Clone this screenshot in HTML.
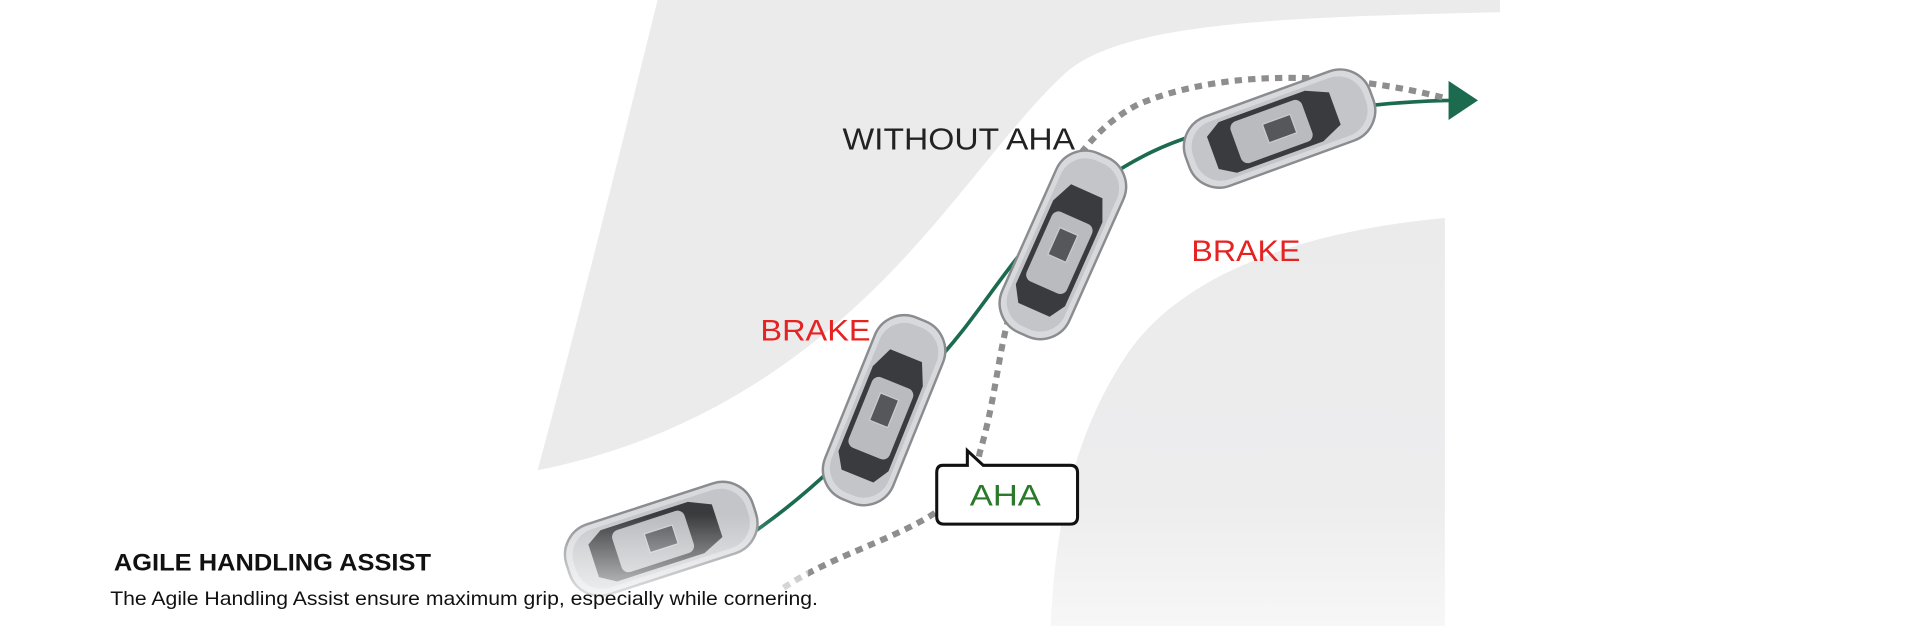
<!DOCTYPE html>
<html><head><meta charset="utf-8"><style>
html,body{margin:0;padding:0;background:#fff;width:1920px;height:626px;overflow:hidden}
svg{display:block}
text{font-family:"Liberation Sans",sans-serif}
</style></head><body>
<svg width="1920" height="626" viewBox="0 0 1568 511.2" preserveAspectRatio="none">
<defs>
<linearGradient id="fade" x1="0" y1="0" x2="0" y2="1">
<stop offset="0" stop-color="#fff" stop-opacity="0"/><stop offset="1" stop-color="#fff" stop-opacity="1"/>
</linearGradient>
<linearGradient id="rfade" x1="0" y1="0" x2="0" y2="1">
<stop offset="0" stop-color="#ebebec"/><stop offset="0.7" stop-color="#ededee"/><stop offset="1" stop-color="#f7f7f7"/>
</linearGradient>
<g id="car">
<rect x="-80" y="-30" width="160" height="60" rx="26" fill="#d8d9dc" stroke="#8a8c90" stroke-width="2"/>
<rect x="-74" y="-25" width="148" height="50" rx="22" fill="#c3c5c9"/>
<path d="M-45,-22 L30,-22 L48,-14 L48,14 L30,22 L-45,22 L-58,14 L-58,-14Z" fill="#3a3b3e"/>
<rect x="-38" y="-18" width="62" height="36" rx="6" fill="#b9bbbf"/>
<rect x="-12" y="-8" width="24" height="16" fill="#55575b" stroke="#ccc"/>
</g>
</defs>
<rect width="1568" height="512" fill="#fff"/>
<path d="M537,0 L1225,0 L1225,10 C1050,14 920,18 872,58 C830,95 780,170 720,230 C650,300 560,360 439,384 C470,270 505,130 537,0Z" fill="#ebebec"/>
<path d="M1180,178 L1180,512 L858,512 C862,420 880,350 920,290 C960,230 1050,190 1180,178Z" fill="url(#rfade)"/>
<path d="M615,435 C680,390 720,340 760,300 C800,260 830,200 870,170 C920,130 960,110 1020,100 C1080,90 1140,82 1190,82" fill="none" stroke="#1c6b4f" stroke-width="3"/>
<path d="M1183,66 L1207,82 L1183,98Z" fill="#1c6b4f"/>
<path d="M640,480 C700,440 790,430 800,370 C815,320 815,280 830,240 C850,170 880,110 930,85 C990,60 1080,55 1180,80" fill="none" stroke="#8e8e8e" stroke-width="5" stroke-dasharray="6,5"/>
<use href="#car" transform="translate(540,440) rotate(-18)"/>
<use href="#car" transform="translate(722,335) rotate(-68)"/>
<use href="#car" transform="translate(868,200) rotate(-66)"/>
<use href="#car" transform="translate(1045,105) rotate(-20)"/>
<rect x="400" y="420" width="260" height="92" fill="url(#fade)"/>
<text x="688" y="122" font-size="25" fill="#222" textLength="190" lengthAdjust="spacingAndGlyphs">WITHOUT AHA</text>
<text x="621" y="278" font-size="24" fill="#e52322" textLength="90" lengthAdjust="spacingAndGlyphs">BRAKE</text>
<text x="973" y="213" font-size="24" fill="#e52322" textLength="89" lengthAdjust="spacingAndGlyphs">BRAKE</text>
<path d="M770,380 L790,380 L790,368 L803,380 L874,380 Q880,380 880,386 L880,422 Q880,428 874,428 L771,428 Q765,428 765,422 L765,386 Q765,380 770,380Z" fill="#fff" stroke="#111" stroke-width="2.5"/>
<text x="792" y="413" font-size="24" fill="#2a7a2a" textLength="58" lengthAdjust="spacingAndGlyphs">AHA</text>
<text x="93" y="466" font-size="20" font-weight="bold" fill="#111" textLength="259" lengthAdjust="spacingAndGlyphs">AGILE HANDLING ASSIST</text>
<text x="90" y="494" font-size="16" fill="#111" textLength="578" lengthAdjust="spacingAndGlyphs">The Agile Handling Assist ensure maximum grip, especially while cornering.</text>
</svg>
</body></html>
